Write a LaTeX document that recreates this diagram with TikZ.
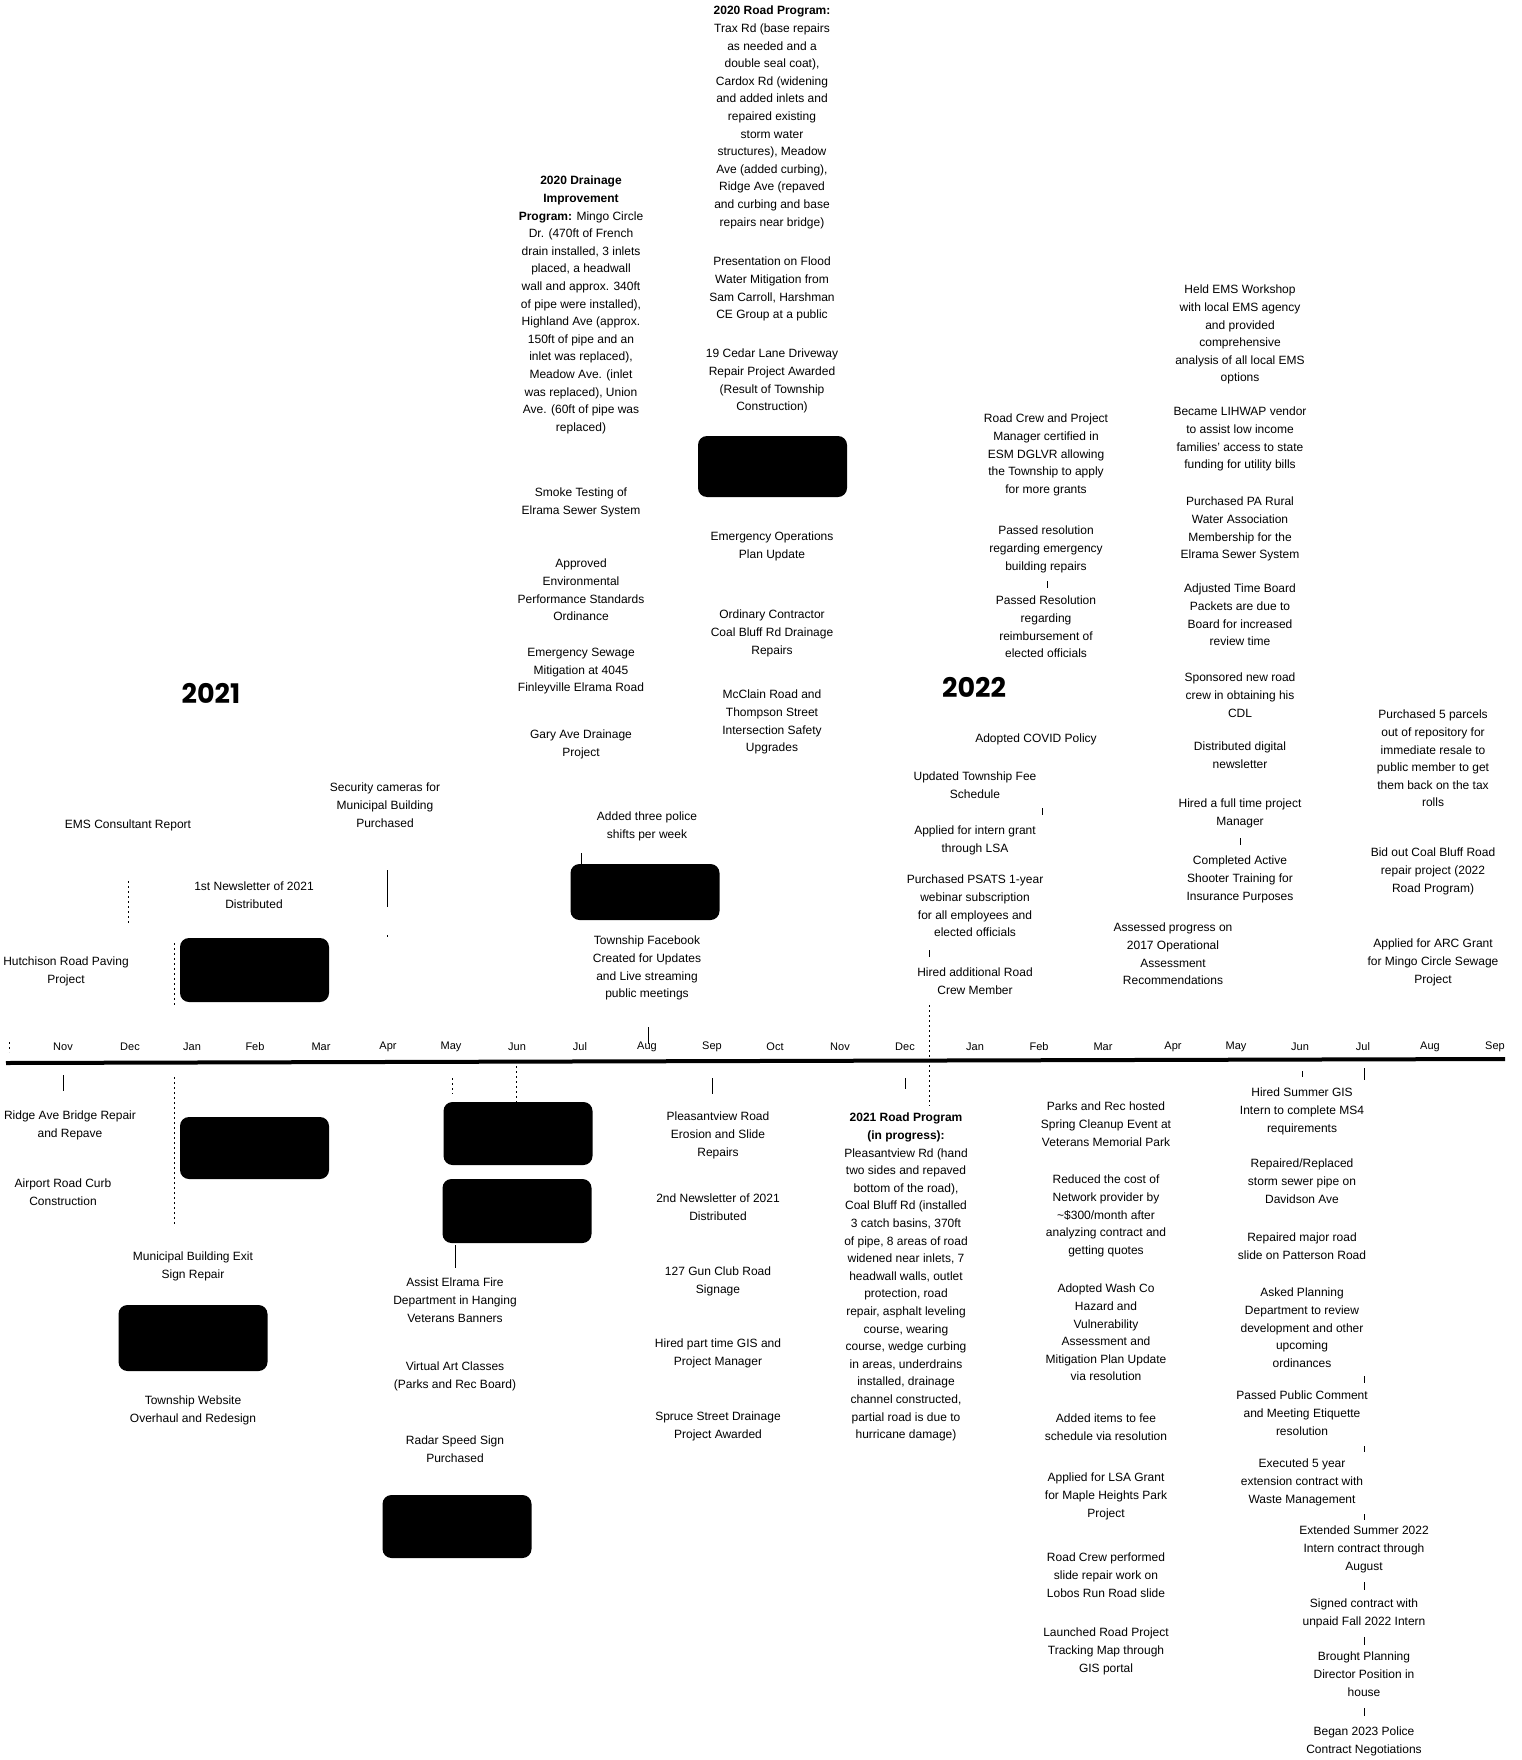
\documentclass[tikz,border=0pt]{standalone}
\usepackage{fontspec}
\setmainfont{Liberation Sans}
\newfontfamily\yearfont{Poppins}
\begin{document}
\begin{tikzpicture}[x=1pt,y=-1pt,
  txt/.style={anchor=north, align=center, inner sep=0pt, font=\fontsize{12}{17.6}\selectfont},
  blk/.style={fill=black, rounded corners=9pt, draw=none, minimum width=149pt, inner sep=0pt},
  mon/.style={font=\fontsize{11}{13}\selectfont, inner sep=0pt},
  yr/.style={font=\yearfont\bfseries\fontsize{27}{30}\selectfont, inner sep=0pt},
  tk/.style={line width=0.8pt},
  dtk/.style={line width=0.8pt, dash pattern=on 2pt off 3pt}]
\useasboundingbox (0,0) rectangle (1521,1760);
\fill[white] (0,0) rectangle (1521,1760);

% ---------- axis ----------
\coordinate (axL) at (6,1063);
\coordinate (axR) at (1505,1059);
\draw[line width=4pt] (axL) -- (axR);
\foreach \n/\x/\t in {1/63/Nov,2/130/Dec,3/192/Jan,4/255/Feb,5/321/Mar,6/388/Apr,7/451/May,8/517/Jun,9/580/Jul,10/647/Aug,11/712/Sep,12/775/Oct,13/840/Nov,14/905/Dec,15/975/Jan,16/1039/Feb,17/1103/Mar,18/1173/Apr,19/1236/May,20/1300/Jun,21/1363/Jul,22/1430/Aug,23/1495/Sep}
  \node[mon] (m\n) at (\x,1047) {\t};

% ---------- years ----------
\node[yr] (y2021) at (211,693) {2021};
\node[yr] (y2022) at (974,687) {2022};

% ---------- black boxes ----------
\node[blk, minimum height=64pt] (b1) at (254.5,970) {};
\node[blk, minimum height=56pt] (b2) at (645,892) {};
\node[blk, minimum height=61pt] (b3) at (772.5,466.5) {};
\node[blk, minimum height=62pt] (b4) at (254.5,1148) {};
\node[blk, minimum height=63pt] (b5) at (518,1133.5) {};
\node[blk, minimum height=64pt] (b6) at (517,1211) {};
\node[blk, minimum height=66pt] (b7) at (193,1338) {};
\node[blk, minimum height=63pt] (b8) at (457,1526.5) {};

% ---------- upper texts ----------
\node[txt] (t1) at (772,6) {{\bfseries 2020 Road Program:}\\Trax Rd (base repairs\\as needed and a\\double seal coat),\\Cardox Rd (widening\\and added inlets and\\repaired existing\\storm water\\structures), Meadow\\Ave (added curbing),\\Ridge Ave (repaved\\and curbing and base\\repairs near bridge)};
\node[txt] (t2) at (772,257) {Presentation on Flood\\Water Mitigation from\\Sam Carroll, Harshman\\CE Group at a public};
\node[txt] (t3) at (772,349) {19 Cedar Lane Driveway\\Repair Project Awarded\\(Result of Township\\Construction)};
\node[txt] (t4) at (772,532) {Emergency Operations\\Plan Update};
\node[txt] (t5) at (772,610) {Ordinary Contractor\\Coal Bluff Rd Drainage\\Repairs};
\node[txt] (t6) at (772,690) {McClain Road and\\Thompson Street\\Intersection Safety\\Upgrades};

\node[txt] (d1) at (581,176) {{\bfseries 2020 Drainage}\\{\bfseries Improvement}\\{\bfseries Program:} Mingo Circle\\Dr. (470ft of French\\drain installed, 3 inlets\\placed, a headwall\\wall and approx. 340ft\\of pipe were installed),\\Highland Ave (approx.\\150ft of pipe and an\\inlet was replaced),\\Meadow Ave. (inlet\\was replaced), Union\\Ave. (60ft of pipe was\\replaced)};
\node[txt] (d2) at (581,488) {Smoke Testing of\\Elrama Sewer System};
\node[txt] (d3) at (581,559) {Approved\\Environmental\\Performance Standards\\Ordinance};
\node[txt] (d4) at (581,648) {Emergency Sewage\\Mitigation at 4045\\Finleyville Elrama Road};
\node[txt] (d5) at (581,730) {Gary Ave Drainage\\Project};

\node[txt] (l1) at (385,783) {Security cameras for\\Municipal Building\\Purchased};
\node[txt] (l2) at (128,820) {EMS Consultant Report};
\node[txt] (l3) at (254,882) {1st Newsletter of 2021\\Distributed};
\node[txt] (l4) at (66,957) {Hutchison Road Paving\\Project};

\node[txt] (p1) at (647,812) {Added three police\\shifts per week};
\node[txt] (p2) at (647,936) {Township Facebook\\Created for Updates\\and Live streaming\\public meetings};

\node[txt] (u1) at (975,772) {Updated Township Fee\\Schedule};
\node[txt] (u2) at (975,826) {Applied for intern grant\\through LSA};
\node[txt] (u3) at (975,875) {Purchased PSATS 1-year\\webinar subscription\\for all employees and\\elected officials};
\node[txt] (u4) at (975,968) {Hired additional Road\\Crew Member};
\node[txt] (u5) at (1036,734) {Adopted COVID Policy};

\node[txt] (r1) at (1046,414) {Road Crew and Project\\Manager certified in\\ESM DGLVR allowing\\the Township to apply\\for more grants};
\node[txt] (r2) at (1046,526) {Passed resolution\\regarding emergency\\building repairs};
\node[txt] (r3) at (1046,596) {Passed Resolution\\regarding\\reimbursement of\\elected officials};

\node[txt] (e1) at (1240,285) {Held EMS Workshop\\with local EMS agency\\and provided\\comprehensive\\analysis of all local EMS\\options};
\node[txt] (e2) at (1240,407) {Became LIHWAP vendor\\to assist low income\\families' access to state\\funding for utility bills};
\node[txt] (e3) at (1240,497) {Purchased PA Rural\\Water Association\\Membership for the\\Elrama Sewer System};
\node[txt] (e4) at (1240,584) {Adjusted Time Board\\Packets are due to\\Board for increased\\review time};
\node[txt] (e5) at (1240,673) {Sponsored new road\\crew in obtaining his\\CDL};
\node[txt] (e6) at (1240,742) {Distributed digital\\newsletter};
\node[txt] (e7) at (1240,799) {Hired a full time project\\Manager};
\node[txt] (e8) at (1240,856) {Completed Active\\Shooter Training for\\Insurance Purposes};
\node[txt] (e9) at (1173,923) {Assessed progress on\\2017 Operational\\Assessment\\Recommendations};

\node[txt] (f1) at (1433,710) {Purchased 5 parcels\\out of repository for\\immediate resale to\\public member to get\\them back on the tax\\rolls};
\node[txt] (f2) at (1433,848) {Bid out Coal Bluff Road\\repair project (2022\\Road Program)};
\node[txt] (f3) at (1433,939) {Applied for ARC Grant\\for Mingo Circle Sewage\\Project};

% ---------- lower texts ----------
\node[txt] (q1) at (70,1111) {Ridge Ave Bridge Repair\\and Repave};
\node[txt] (q2) at (63,1179) {Airport Road Curb\\Construction};
\node[txt] (q3) at (193,1252) {Municipal Building Exit\\Sign Repair};
\node[txt] (q4) at (193,1396) {Township Website\\Overhaul and Redesign};
\node[txt] (q5) at (455,1278) {Assist Elrama Fire\\Department in Hanging\\Veterans Banners};
\node[txt] (q6) at (455,1362) {Virtual Art Classes\\(Parks and Rec Board)};
\node[txt] (q7) at (455,1436) {Radar Speed Sign\\Purchased};

\node[txt] (s1) at (718,1112) {Pleasantview Road\\Erosion and Slide\\Repairs};
\node[txt] (s2) at (718,1194) {2nd Newsletter of 2021\\Distributed};
\node[txt] (s3) at (718,1267) {127 Gun Club Road\\Signage};
\node[txt] (s4) at (718,1339) {Hired part time GIS and\\Project Manager};
\node[txt] (s5) at (718,1412) {Spruce Street Drainage\\Project Awarded};

\node[txt] (w1) at (906,1113) {{\bfseries 2021 Road Program}\\{\bfseries (in progress):}\\Pleasantview Rd (hand\\two sides and repaved\\bottom of the road),\\Coal Bluff Rd (installed\\3 catch basins, 370ft\\of pipe, 8 areas of road\\widened near inlets, 7\\headwall walls, outlet\\protection, road\\repair, asphalt leveling\\course, wearing\\course, wedge curbing\\in areas, underdrains\\installed, drainage\\channel constructed,\\partial road is due to\\hurricane damage)};

\node[txt] (g1) at (1106,1102) {Parks and Rec hosted\\Spring Cleanup Event at\\Veterans Memorial Park};
\node[txt] (g2) at (1106,1175) {Reduced the cost of\\Network provider by\\\textasciitilde\$300/month after\\analyzing contract and\\getting quotes};
\node[txt] (g3) at (1106,1284) {Adopted Wash Co\\Hazard and\\Vulnerability\\Assessment and\\Mitigation Plan Update\\via resolution};
\node[txt] (g4) at (1106,1414) {Added items to fee\\schedule via resolution};
\node[txt] (g5) at (1106,1473) {Applied for LSA Grant\\for Maple Heights Park\\Project};
\node[txt] (g6) at (1106,1553) {Road Crew performed\\slide repair work on\\Lobos Run Road slide};
\node[txt] (g7) at (1106,1628) {Launched Road Project\\Tracking Map through\\GIS portal};

\node[txt] (h1) at (1302,1088) {Hired Summer GIS\\Intern to complete MS4\\requirements};
\node[txt] (h2) at (1302,1159) {Repaired/Replaced\\storm sewer pipe on\\Davidson Ave};
\node[txt] (h3) at (1302,1233) {Repaired major road\\slide on Patterson Road};
\node[txt] (h4) at (1302,1288) {Asked Planning\\Department to review\\development and other\\upcoming\\ordinances};
\node[txt] (h5) at (1302,1391) {Passed Public Comment\\and Meeting Etiquette\\resolution};
\node[txt] (h6) at (1302,1459) {Executed 5 year\\extension contract with\\Waste Management};
\node[txt] (h7) at (1364,1526) {Extended Summer 2022\\Intern contract through\\August};
\node[txt] (h8) at (1364,1599) {Signed contract with\\unpaid Fall 2022 Intern};
\node[txt] (h9) at (1364,1652) {Brought Planning\\Director Position in\\house};
\node[txt] (h10) at (1364,1727) {Began 2023 Police\\Contract Negotiations};

% ---------- ticks / leader lines ----------
\draw[dtk] (9,1042) -- (9,1052);
\draw[dtk] (128,881) -- (128,923);
\draw[dtk] (174,943) -- (174,1007);
\draw[dtk] (174,1077) -- (174,1225);
\draw[tk] (387,870) -- (387,907);
\draw[dtk] (387,935) -- (387,939);
\draw[tk] (581,853) -- (581,864);
\draw[tk] (648,1027) -- (648,1044);
\draw[tk] (63,1075) -- (63,1091);
\draw[dtk] (452,1078) -- (452,1094);
\draw[dtk] (516,1061) -- (516,1106);
\draw[tk] (455,1245) -- (455,1268);
\draw[tk] (712,1078) -- (712,1094);
\draw[tk] (905,1078) -- (905,1089);
\draw[dtk] (929,1005) -- (929,1106);
\draw[tk] (1047,581) -- (1047,588);
\draw[tk] (1042,808) -- (1042,815);
\draw[tk] (929,950) -- (929,957);
\draw[tk] (1240,838) -- (1240,845);
\draw[tk] (1302,1071) -- (1302,1077);
\draw[tk] (1364,1068) -- (1364,1080);
\draw[tk] (1364,1376) -- (1364,1383);
\draw[tk] (1364,1446) -- (1364,1452);
\draw[tk] (1364,1514) -- (1364,1520);
\draw[tk] (1364,1582) -- (1364,1590);
\draw[tk] (1364,1637) -- (1364,1645);
\draw[tk] (1364,1708) -- (1364,1716);
\end{tikzpicture}
\end{document}
